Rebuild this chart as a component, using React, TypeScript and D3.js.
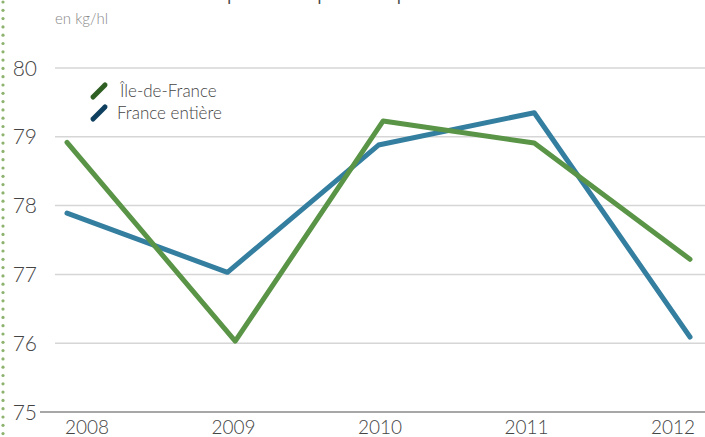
import { useEffect, useRef } from 'react'
import * as d3 from 'd3'

// values (kg/hl)
const years = [2008, 2009, 2010, 2011, 2012]
const idfYears = [2008, 2009.08, 2010.03, 2011, 2012]
const idfValues = [78.92, 76.03, 79.23, 78.91, 77.22]
const franceYears = [2008, 2009.03, 2010, 2011, 2012]
const franceValues = [77.89, 77.03, 78.88, 79.35, 76.09]
const yTicks = [75, 76, 77, 78, 79, 80]

const seriesNames = ['Île-de-France', 'France entière']
const lineColors = ['#5a9446', '#347ea0']
const legendColors = ['#2f5f22', '#0f3f5f']

const W = 705
const H = 437
const font = 'Lato, "Open Sans", sans-serif'

export default function App() {
  const svgRef = useRef<SVGSVGElement>(null)

  useEffect(() => {
    if (!svgRef.current) return
    const svg = d3.select(svgRef.current)
    svg.selectAll('*').remove()

    const x = d3.scaleLinear().domain([2008, 2012]).range([67, 690])
    const xLabel = d3.scaleLinear().domain([2008, 2012]).range([87, 673])
    const y = d3.scaleLinear().domain([75, 80]).range([412, 68])

    // dotted border on the left
    svg.append('g')
      .selectAll('circle')
      .data(d3.range(0, H, 8.3))
      .join('circle')
      .attr('cx', 3)
      .attr('cy', d => d + 2)
      .attr('r', 1.6)
      .attr('fill', '#8db36f')

    // title, cut off at the top of the frame
    svg.append('text')
      .attr('x', 55)
      .attr('y', -1)
      .attr('font-family', font)
      .attr('font-weight', 300)
      .attr('font-size', 30)
      .attr('fill', '#444')
      .text('Évolution du poids spécifique')

    svg.append('text')
      .attr('x', 55)
      .attr('y', 24)
      .attr('font-family', font)
      .attr('font-weight', 300)
      .attr('font-size', 15)
      .attr('fill', '#888')
      .text('en kg/hl')

    // grid
    svg.append('g')
      .selectAll('line')
      .data(yTicks.filter(t => t !== 75))
      .join('line')
      .attr('x1', 55)
      .attr('x2', W)
      .attr('y1', d => y(d))
      .attr('y2', d => y(d))
      .attr('stroke', '#d6d6d6')
      .attr('stroke-width', 1.5)

    svg.append('line')
      .attr('x1', 40)
      .attr('x2', W)
      .attr('y1', y(75))
      .attr('y2', y(75))
      .attr('stroke', '#8a8a8a')
      .attr('stroke-width', 1.5)

    svg.append('g')
      .selectAll('text')
      .data(yTicks)
      .join('text')
      .attr('x', 37)
      .attr('y', d => y(d))
      .attr('dy', '0.36em')
      .attr('text-anchor', 'end')
      .attr('font-family', font)
      .attr('font-weight', 300)
      .attr('font-size', 21)
      .attr('fill', '#444')
      .text(d => d)

    svg.append('g')
      .selectAll('text')
      .data(years)
      .join('text')
      .attr('x', d => xLabel(d))
      .attr('y', 434)
      .attr('text-anchor', 'middle')
      .attr('font-family', font)
      .attr('font-weight', 300)
      .attr('font-size', 19)
      .attr('fill', '#444')
      .text(d => d)

    const line = d3.line<[number, number]>()
      .x(d => x(d[0]))
      .y(d => y(d[1]))

    const series: [number, number][][] = [
      idfYears.map((yr, i) => [yr, idfValues[i]]),
      franceYears.map((yr, i) => [yr, franceValues[i]]),
    ]

    // France drawn first, Île-de-France on top
    ;[1, 0].forEach(i => {
      svg.append('path')
        .datum(series[i])
        .attr('d', line)
        .attr('fill', 'none')
        .attr('stroke', lineColors[i])
        .attr('stroke-width', 5)
        .attr('stroke-linecap', 'round')
        .attr('stroke-linejoin', 'round')
    })

    // legend
    const legend = svg.append('g')
    seriesNames.forEach((name, i) => {
      const cy = 91 + i * 22
      legend.append('line')
        .attr('x1', 93)
        .attr('y1', cy + 6)
        .attr('x2', 105)
        .attr('y2', cy - 6)
        .attr('stroke', legendColors[i])
        .attr('stroke-width', 5)
        .attr('stroke-linecap', 'round')
      legend.append('text')
        .attr('x', i === 0 ? 120 : 117)
        .attr('y', cy)
        .attr('dy', '0.36em')
        .attr('font-family', font)
        .attr('font-weight', 300)
        .attr('font-size', 17)
        .attr('fill', '#444')
        .text(name)
    })
  }, [])

  return (
    <div style={{ position: 'fixed', left: 0, top: 0 }}>
      <svg ref={svgRef} width={W} height={H} style={{ display: 'block', background: '#fff' }} />
    </div>
  )
}
